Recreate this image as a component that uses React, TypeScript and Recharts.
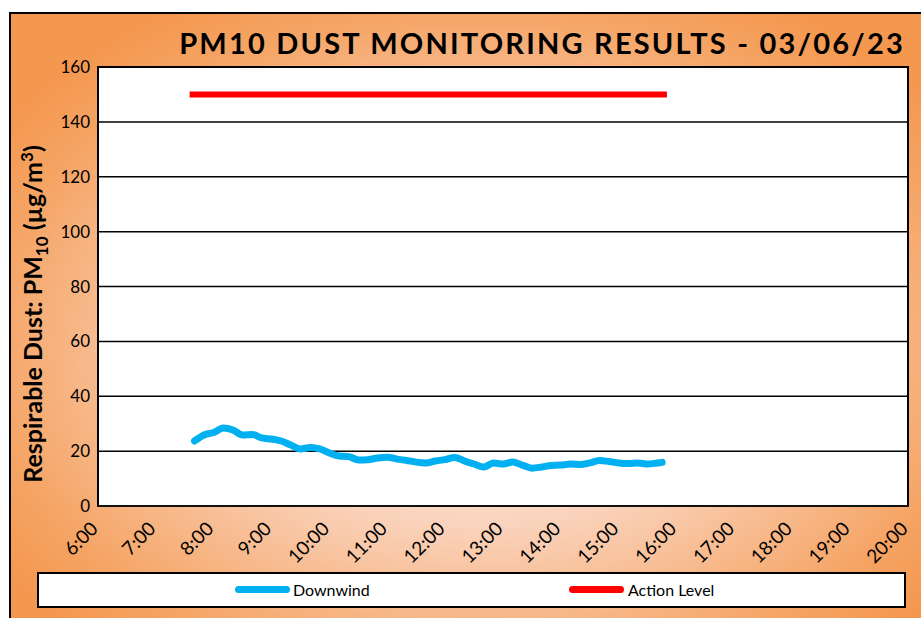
import React from 'react'
import { LineChart, Line, XAxis, YAxis, CartesianGrid } from 'recharts'

// readings, 10 minute steps
const times = [
  '7:40', '7:50', '8:00', '8:10', '8:20', '8:30', '8:40', '8:50', '9:00', '9:10',
  '9:20', '9:30', '9:40', '9:50', '10:00', '10:10', '10:20', '10:30', '10:40', '10:50',
  '11:00', '11:10', '11:20', '11:30', '11:40', '11:50', '12:00', '12:10', '12:20', '12:30',
  '12:40', '12:50', '13:00', '13:10', '13:20', '13:30', '13:40', '13:50', '14:00', '14:10',
  '14:20', '14:30', '14:40', '14:50', '15:00', '15:10', '15:20', '15:30', '15:40', '15:45',
]
const downwind = [
  23.7, 25.9, 26.8, 28.4, 27.7, 25.9, 26.1, 24.8, 24.4, 23.7,
  22.2, 20.8, 21.3, 20.8, 19.3, 18.2, 18.0, 16.8, 16.9, 17.5,
  17.8, 17.1, 16.6, 16.0, 15.7, 16.4, 16.9, 17.7, 16.4, 15.3,
  14.2, 15.7, 15.3, 16.0, 14.9, 13.8, 14.2, 14.8, 14.9, 15.3,
  15.1, 15.7, 16.6, 16.2, 15.7, 15.5, 15.7, 15.3, 15.7, 15.9,
]
const actionTimes = ['7:35', '15:50']
const actionLevel = [150, 150]

const hourTicks = [6, 7, 8, 9, 10, 11, 12, 13, 14, 15, 16, 17, 18, 19, 20]
const yTicks = [0, 20, 40, 60, 80, 100, 120, 140, 160]

const toHours = (t: string) => {
  const [h, m] = t.split(':').map(Number)
  return h + m / 60
}

const downwindData = times.map((t, i) => ({ t: toHours(t), v: downwind[i] }))
const actionData = actionTimes.map((t, i) => ({ t: toHours(t), v: actionLevel[i] }))

const FONT = 'Lato, "Open Sans", sans-serif'

const XTick = (props: any) => {
  const { x, y, payload } = props
  return (
    <text
      x={x + 1}
      y={y + 16}
      transform={`rotate(-45 ${x + 1} ${y + 16})`}
      textAnchor="end"
      fontSize={19}
      fontFamily={FONT}
      fill="#000"
    >
      {payload.value}:00
    </text>
  )
}

const YTitle = () => (
  <text
    x={42}
    y={314}
    transform="rotate(-90 42 314)"
    textAnchor="middle"
    fontSize={25}
    fontWeight="bold"
    fontFamily={FONT}
    fill="#000"
  >
    Respirable Dust: PM
    <tspan dy={6} fontSize={17}>10</tspan>
    <tspan dy={-6}>  (µg/m</tspan>
    <tspan dy={-9} fontSize={17}>3</tspan>
    <tspan dy={9}>)</tspan>
  </text>
)

export default function App() {
  return (
    <div style={{ position: 'absolute', left: 0, top: 0, width: 921, height: 618, overflow: 'hidden', fontFamily: FONT }}>
      <div
        style={{
          position: 'absolute',
          left: 9,
          top: 12,
          width: 940,
          height: 640,
          border: '2px solid #000',
          background: 'radial-gradient(ellipse 62% 62% at 50% 52%, #fff3ee 0%, #fad3bc 45%, #f5a464 85%, #f4974f 100%)',
        }}
      />
      <div
        style={{
          position: 'absolute',
          right: 16,
          top: 25,
          fontSize: 29,
          fontWeight: 'bold',
          letterSpacing: 2.2,
          color: '#000',
          whiteSpace: 'nowrap',
        }}
      >
        PM10 DUST MONITORING RESULTS - 03/06/23
      </div>
      <div
        style={{
          position: 'absolute',
          left: 97,
          top: 66,
          width: 808,
          height: 437,
          background: '#fff',
          border: '2px solid #000',
          borderBottomColor: '#444',
        }}
      />
      <div style={{ position: 'absolute', left: 0, top: 0 }}>
        <LineChart width={921} height={618} margin={{ top: 67, right: 13, bottom: 52, left: 38 }}>
          <CartesianGrid vertical={false} stroke="#000" strokeWidth={1.5} />
          <XAxis
            dataKey="t"
            type="number"
            domain={[6, 20]}
            ticks={hourTicks}
            interval={0}
            height={60}
            axisLine={false}
            tickLine={false}
            tick={<XTick />}
            allowDuplicatedCategory={false}
          />
          <YAxis
            type="number"
            domain={[0, 160]}
            ticks={yTicks}
            interval={0}
            width={60}
            axisLine={false}
            tickLine={false}
            tick={{ fontSize: 17, fill: '#000', fontFamily: FONT }}
            label={{ content: () => <YTitle /> }}
          />
          <Line
            data={actionData}
            dataKey="v"
            stroke="#ff0000"
            strokeWidth={6}
            dot={false}
            isAnimationActive={false}
          />
          <Line
            data={downwindData}
            dataKey="v"
            type="monotone"
            stroke="#00b0f0"
            strokeWidth={7}
            strokeLinecap="round"
            strokeLinejoin="round"
            dot={false}
            isAnimationActive={false}
          />
        </LineChart>
      </div>
      <div
        style={{
          position: 'absolute',
          left: 37,
          top: 572,
          width: 865,
          height: 32,
          background: '#fff',
          border: '2px solid #000',
          fontSize: 16,
          color: '#000',
        }}
      >
        <div style={{ position: 'absolute', left: 196, top: 16, width: 55, height: 7, marginTop: -4, borderRadius: 4, background: '#00b0f0' }} />
        <div style={{ position: 'absolute', left: 254, top: 6, lineHeight: '20px' }}>Downwind</div>
        <div style={{ position: 'absolute', left: 530, top: 16, width: 55, height: 7, marginTop: -4, borderRadius: 4, background: '#ff0000' }} />
        <div style={{ position: 'absolute', left: 589, top: 6, lineHeight: '20px' }}>Action Level</div>
      </div>
    </div>
  )
}
